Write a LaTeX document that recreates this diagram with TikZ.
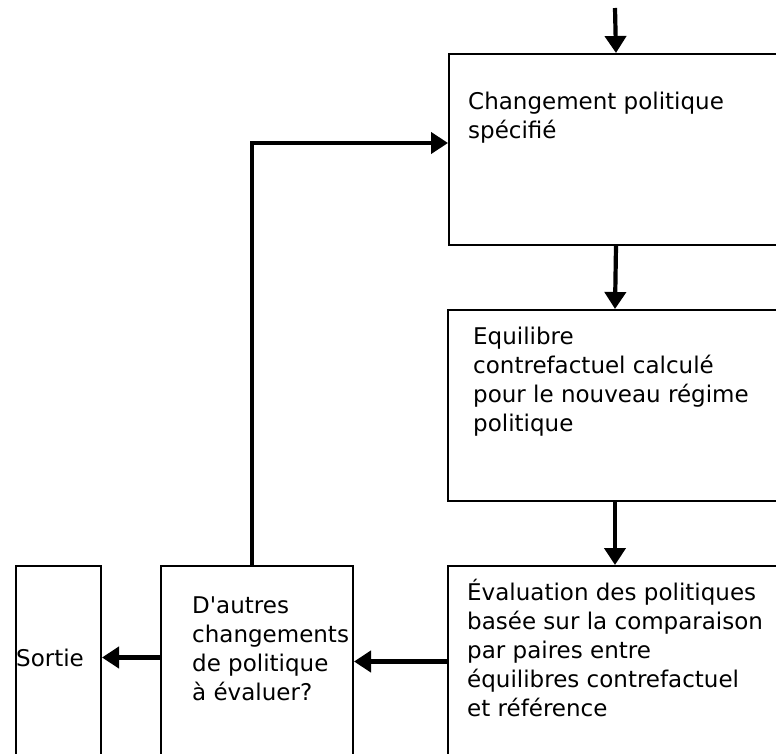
\documentclass[tikz,border=0pt]{standalone}
\usepackage{fontspec}
\setmainfont{DejaVu Sans}[Ligatures=TeXOff]
\usetikzlibrary{arrows.meta}
\begin{document}
\begin{tikzpicture}[x=1pt, y=-1pt]
      \tikzset{box/.style={draw, rectangle, line width=2pt, anchor=north west, inner sep=0pt},
               txt/.style={anchor=north west, inner sep=0pt, align=left, font=\fontsize{23}{29}\selectfont},
               flow/.style={line width=4.2pt, -{Triangle[length=17pt, width=21pt]}}}
      \useasboundingbox (0,0) rectangle (776,754);
      \clip (0,0) rectangle (776,754);
%% Boxes
	%colonne droite
      	\node[box, minimum width=334pt, minimum height=191pt] (chg) at (448,53) {};
      	\node[box, minimum width=334pt, minimum height=191pt] (equi) at (447,309) {};
      	\node[box, minimum width=334pt, minimum height=191pt] (eval) at (447,565) {};
	%rangee du bas
      	\node[box, minimum width=192pt, minimum height=191pt] (autres) at (160,565) {};
      	\node[box, minimum width=85pt, minimum height=191pt] (sortie) at (15,565) {};
      	\coordinate (start) at (615,8);
%% Texts
      	\node[txt] (tchg) at ([xshift=20pt, yshift=-39pt]chg.north west) {Changement politique\\spécifié};
      	\node[txt] (tequi) at ([xshift=26pt, yshift=-18pt]equi.north west) {Equilibre\\contrefactuel calculé\\pour le nouveau régime\\politique};
      	\node[txt] (teval) at ([xshift=20pt, yshift=-14pt]eval.north west) {Évaluation des politiques\\basée sur la comparaison\\par paires entre\\équilibres contrefactuel\\et référence};
      	\node[txt] (tautres) at ([xshift=32pt, yshift=-32pt]autres.north west) {D'autres\\changements\\de politique\\à évaluer?};
      	\node[txt, anchor=west] (tsortie) at ([xshift=1pt, yshift=4pt]sortie.west) {Sortie};
%Edges
		\draw [flow] (start) -- (chg.north);
		\draw [flow] (chg.south) -- (equi.north);
		\draw [flow] (equi.south) -- (eval.north);
		\draw [flow] (eval.west) -- (autres.east);
		\draw [flow] ([yshift=4pt]autres.west) -- ([yshift=4pt]sortie.east);
		\draw [flow] ([xshift=-5pt]autres.north) |- ([yshift=6.5pt]chg.west);

\end{tikzpicture}
\end{document}
